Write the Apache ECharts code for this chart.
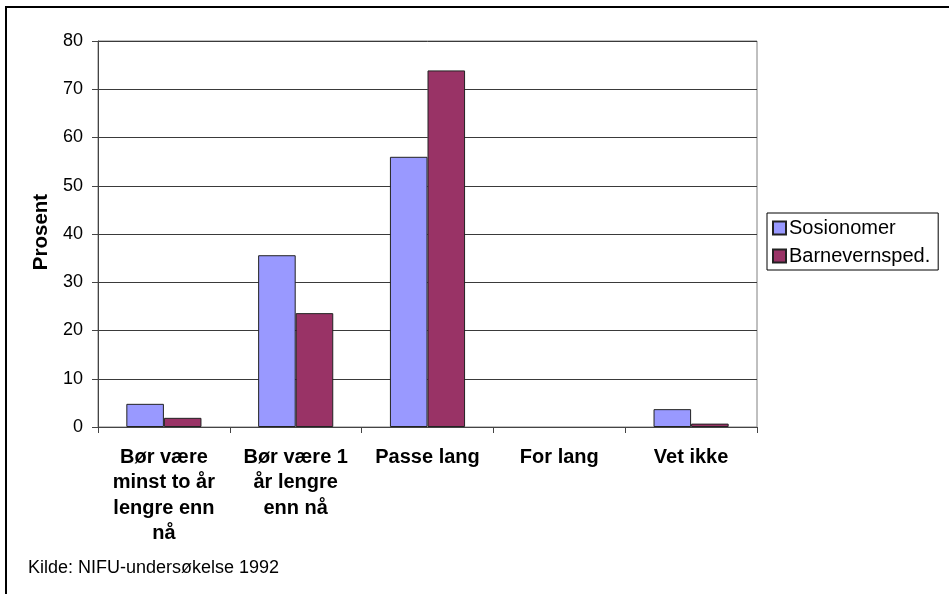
<!DOCTYPE html>
<html>
<head>
<meta charset="utf-8">
<script src="https://cdn.jsdelivr.net/npm/echarts@6/dist/echarts.min.js"></script>
<style>
  html, body { margin: 0; padding: 0; background: #fff; }
  #chart { width: 949px; height: 594px; }
</style>
</head>
<body>
<div id="chart"></div>
<script>
// Answer categories (line breaks as printed under the axis)
const categories = [
  'Bør være\nminst to år\nlengre enn\nnå',
  'Bør være 1\når lengre\nenn nå',
  'Passe lang',
  'For lang',
  'Vet ikke'
];
// Percent per group
const sosionomer = [4.8, 35.6, 56.0, 0, 3.7];
const barnevernsped = [1.9, 23.6, 73.9, 0, 0.7];
const seriesNames = ['Sosionomer', 'Barnevernsped.'];
const yTicks = { min: 0, max: 80, interval: 10 };

const FONT = '"Liberation Sans", Arial, Helvetica, sans-serif';

// Zero-height bars get no outline so nothing is drawn for them
function barData(values) {
  return values.map(v => v === 0 ? { value: v, itemStyle: { borderWidth: 0 } } : v);
}

const chart = echarts.init(document.getElementById('chart'), null, { renderer: 'canvas' });

chart.setOption({
  animation: false,
  backgroundColor: '#fff',
  textStyle: { fontFamily: FONT, color: '#000' },
  grid: {
    left: 98, top: 41, right: 192, bottom: 167,
    show: true, borderColor: '#808080', borderWidth: 1
  },
  legend: {
    orient: 'vertical',
    left: 767, top: 213,
    data: seriesNames,
    itemWidth: 13, itemHeight: 13,
    itemGap: 8,
    padding: [5, 8, 4, 5],
    borderColor: '#000', borderWidth: 1,
    icon: 'rect',
    textStyle: { fontFamily: FONT, fontSize: 20, color: '#000', padding: [0, 0, 0, -2] }
  },
  xAxis: {
    type: 'category',
    data: categories,
    axisLine: { lineStyle: { color: '#444', width: 1 } },
    axisTick: { show: true, length: 6, lineStyle: { color: '#444' } },
    axisLabel: {
      interval: 0,
      margin: 18,
      fontFamily: FONT,
      fontWeight: 'bold',
      fontSize: 20,
      lineHeight: 25.3,
      color: '#000',
      align: 'center'
    },
    splitLine: { show: false }
  },
  yAxis: {
    type: 'value',
    min: yTicks.min, max: yTicks.max, interval: yTicks.interval,
    axisLine: { show: true, lineStyle: { color: '#444', width: 1 } },
    axisTick: { show: true, length: 6, lineStyle: { color: '#444' } },
    axisLabel: { margin: 15, fontFamily: FONT, fontSize: 18, color: '#000' },
    splitLine: { show: true, lineStyle: { color: '#3a3a3a', width: 1 } }
  },
  series: [
    {
      name: seriesNames[0],
      type: 'bar',
      data: barData(sosionomer),
      barGap: '0%',
      barCategoryGap: '43%',
      itemStyle: { color: '#9999FF', borderColor: '#222', borderWidth: 1 }
    },
    {
      name: seriesNames[1],
      type: 'bar',
      data: barData(barnevernsped),
      barGap: '0%',
      barCategoryGap: '43%',
      itemStyle: { color: '#993366', borderColor: '#222', borderWidth: 1 }
    }
  ],
  graphic: [
    {
      // outer chart frame
      type: 'rect',
      silent: true,
      shape: { x: 6, y: 7, width: 1200, height: 1200 },
      style: { fill: 'none', stroke: '#000', lineWidth: 2 }
    },
    {
      type: 'text',
      silent: true,
      x: 41.5, y: 232,
      rotation: Math.PI / 2,
      style: {
        text: 'Prosent',
        fontFamily: FONT, fontWeight: 'bold', fontSize: 20.5,
        fill: '#000', align: 'center', verticalAlign: 'middle'
      }
    },
    {
      type: 'text',
      silent: true,
      x: 28, y: 568,
      style: {
        text: 'Kilde: NIFU-undersøkelse 1992',
        fontFamily: FONT, fontSize: 18,
        fill: '#000', align: 'left', verticalAlign: 'middle'
      }
    }
  ]
});
</script>
</body>
</html>
